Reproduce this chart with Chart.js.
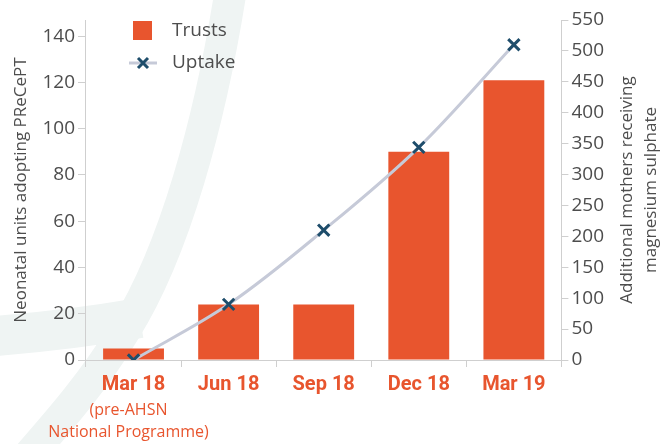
<!DOCTYPE html>
<html>
<head>
<meta charset="utf-8">
<script src="https://cdn.jsdelivr.net/npm/chart.js@4/dist/chart.umd.min.js"></script>
<style>
  html, body { margin: 0; padding: 0; background: #fff; }
  #wrap { width: 669px; height: 444px; position: relative; }
</style>
</head>
<body>
<div id="wrap"><canvas id="chart" width="669" height="444"></canvas></div>
<script>
const categories = ["Mar 18", "Jun 18", "Sep 18", "Dec 18", "Mar 19"];
const trusts = [5, 24, 24, 90, 121];
const uptake = [0, 90, 210, 344, 510];
const leftTicks = [0, 20, 40, 60, 80, 100, 120, 140];
const firstNote = ["(pre-AHSN", "National Programme)"];
const rightTitle = ["Additional mothers receiving", "magnesium sulphate"];

const ORANGE = "#e8552e";
const NAVY = "#1e4d6b";
const LINE = "#c6cad8";
const AXIS = "#cfcfcf";
const TEXT = "#4d4d4d";
const FONT = "'Open Sans', sans-serif";

// light decorative swoosh behind the chart
const backdrop = {
  id: "backdrop",
  beforeDraw(chart) {
    const ctx = chart.ctx;
    ctx.save();
    ctx.strokeStyle = "#eff4f3";
    ctx.lineCap = "butt";
    ctx.lineWidth = 32;
    ctx.beginPath();
    ctx.moveTo(230, -5);
    ctx.bezierCurveTo(210, 120, 175, 250, 125, 330);
    ctx.bezierCurveTo(95, 380, 60, 420, 25, 460);
    ctx.stroke();
    ctx.lineWidth = 40;
    ctx.beginPath();
    ctx.moveTo(-5, 336);
    ctx.quadraticCurveTo(70, 330, 140, 318);
    ctx.stroke();
    ctx.restore();
  }
};

// legend stacked in the top-left of the plot, note under first label, right title
const extras = {
  id: "extras",
  afterDraw(chart) {
    const ctx = chart.ctx;
    const bars = chart.data.datasets[0];
    const line = chart.data.datasets[1];
    ctx.save();
    ctx.font = "19px " + FONT;
    ctx.textBaseline = "middle";
    ctx.textAlign = "left";
    ctx.fillStyle = bars.backgroundColor;
    ctx.fillRect(133, 21, 19, 19);
    ctx.fillStyle = TEXT;
    ctx.fillText(bars.label, 172, 31);

    ctx.strokeStyle = line.borderColor;
    ctx.lineWidth = 3;
    ctx.beginPath();
    ctx.moveTo(129, 63);
    ctx.lineTo(157, 63);
    ctx.stroke();
    ctx.strokeStyle = line.pointBorderColor;
    ctx.beginPath();
    ctx.moveTo(138, 58); ctx.lineTo(148, 68);
    ctx.moveTo(148, 58); ctx.lineTo(138, 68);
    ctx.stroke();
    ctx.fillStyle = TEXT;
    ctx.fillText(line.label, 172, 63);

    // note under "Mar 18"
    const x = chart.scales.x.getPixelForTick(0);
    ctx.fillStyle = ORANGE;
    ctx.font = "16px " + FONT;
    ctx.textAlign = "center";
    ctx.fillText(firstNote[0], x - 5, 410);
    ctx.fillText(firstNote[1], x - 5, 432);

    // right axis title, reading bottom to top
    const a = chart.chartArea;
    ctx.translate(638, (a.top + a.bottom) / 2);
    ctx.rotate(-Math.PI / 2);
    ctx.fillStyle = TEXT;
    ctx.font = "17px " + FONT;
    ctx.fillText(rightTitle[0], 0, -11);
    ctx.fillText(rightTitle[1], 0, 13);
    ctx.restore();
  }
};

new Chart(document.getElementById("chart"), {
  type: "bar",
  data: {
    labels: categories,
    datasets: [
      {
        type: "bar",
        label: "Trusts",
        data: trusts,
        yAxisID: "y",
        backgroundColor: ORANGE,
        barPercentage: 0.64,
        categoryPercentage: 1,
        order: 1
      },
      {
        type: "line",
        label: "Uptake",
        data: uptake,
        yAxisID: "y1",
        borderColor: LINE,
        borderWidth: 3,
        tension: 0.35,
        pointStyle: "crossRot",
        pointRadius: 8,
        pointBorderWidth: 3,
        pointBorderColor: NAVY,
        pointBackgroundColor: NAVY,
        order: 0
      }
    ]
  },
  options: {
    responsive: false,
    animation: false,
    layout: { padding: { left: 11, right: 62, top: 20, bottom: 41 } },
    plugins: { legend: { display: false }, tooltip: { enabled: false } },
    scales: {
      x: {
        grid: { drawOnChartArea: false, color: AXIS, tickLength: 7, offset: true },
        border: { color: AXIS },
        ticks: { color: ORANGE, font: { family: "Roboto", size: 20, weight: "bold" }, padding: 6 }
      },
      y: {
        position: "left",
        min: 0,
        max: 147,
        afterBuildTicks: s => { s.ticks = leftTicks.map(v => ({ value: v })); },
        ticks: { color: TEXT, font: { family: FONT, size: 19 }, padding: 3 },
        grid: { drawOnChartArea: false, color: AXIS, tickLength: 8 },
        border: { color: AXIS },
        title: {
          display: true,
          text: "Neonatal units adopting PReCePT",
          color: TEXT,
          font: { family: FONT, size: 17 },
          padding: { top: 0, bottom: 8 }
        }
      },
      y1: {
        position: "right",
        min: 0,
        max: 550,
        ticks: { stepSize: 50, color: TEXT, font: { family: FONT, size: 19 }, padding: 3 },
        grid: { drawOnChartArea: false, color: AXIS, tickLength: 7 },
        border: { color: AXIS }
      }
    }
  },
  plugins: [backdrop, extras]
});
</script>
</body>
</html>
